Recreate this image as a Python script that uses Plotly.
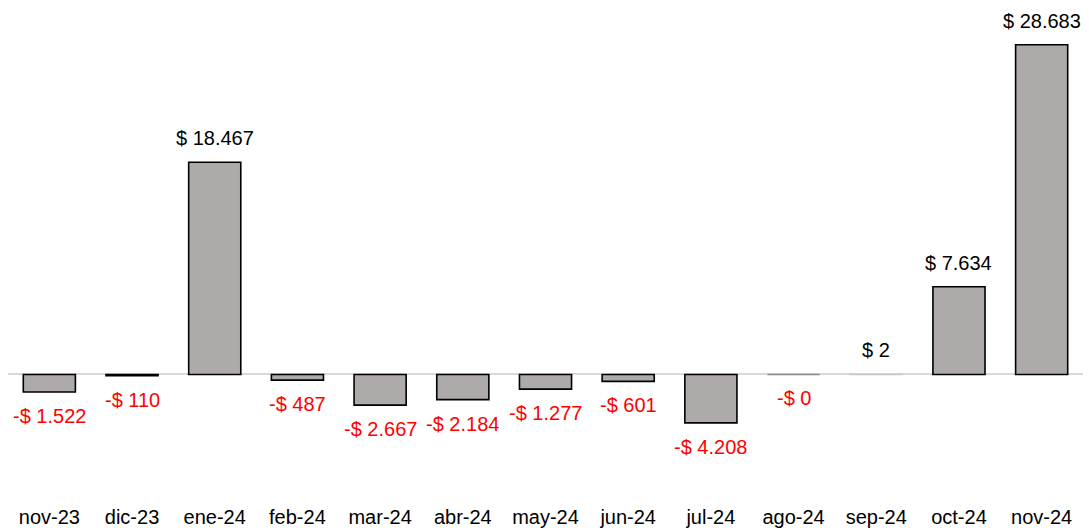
import plotly.graph_objects as go

months = ["nov-23", "dic-23", "ene-24", "feb-24", "mar-24", "abr-24", "may-24",
          "jun-24", "jul-24", "ago-24", "sep-24", "oct-24", "nov-24"]
values = [-1522, -110, 18467, -487, -2667, -2184, -1277, -601, -4208, -0.3, 2, 7634, 28683]


def fmt(v):
    s = f"{abs(v):,.0f}".replace(",", ".")
    return ("-$ " if v < 0 else "$ ") + s


# near-zero bars show only a faint outline in the reference
outline_colors = ["#000000" if abs(v) >= 50 else ("#8A8A8A" if v < 0 else "#C8C8C8")
                  for v in values]

FONT = "Liberation Sans, Arial, sans-serif"

fig = go.Figure()
fig.add_trace(go.Bar(
    x=months, y=values,
    marker=dict(color="#AEAAA9", line=dict(color=outline_colors, width=1.6)),
    hoverinfo="skip",
))

for m, v in zip(months, values):
    neg = v < 0
    fig.add_annotation(
        x=m, y=v, text=fmt(v), showarrow=False,
        yanchor="top" if neg else "bottom",
        yshift=-11 if neg else 11,
        font=dict(family=FONT, size=20, color="#FF0000" if neg else "#000000"),
    )

fig.update_layout(
    width=1089, height=528,
    margin=dict(l=8, r=6, t=0, b=23),
    paper_bgcolor="white", plot_bgcolor="white",
    bargap=0.37,
    showlegend=False,
    font=dict(family=FONT, size=20, color="#000000"),
    xaxis=dict(showgrid=False, showline=False, ticks="", zeroline=False,
               tickfont=dict(size=20)),
    yaxis=dict(range=[-11180, 32580], showgrid=False, showticklabels=False,
               zeroline=True, zerolinecolor="#D9D9D9", zerolinewidth=2,
               showline=False, ticks=""),
)

fig.write_html("out.html")
